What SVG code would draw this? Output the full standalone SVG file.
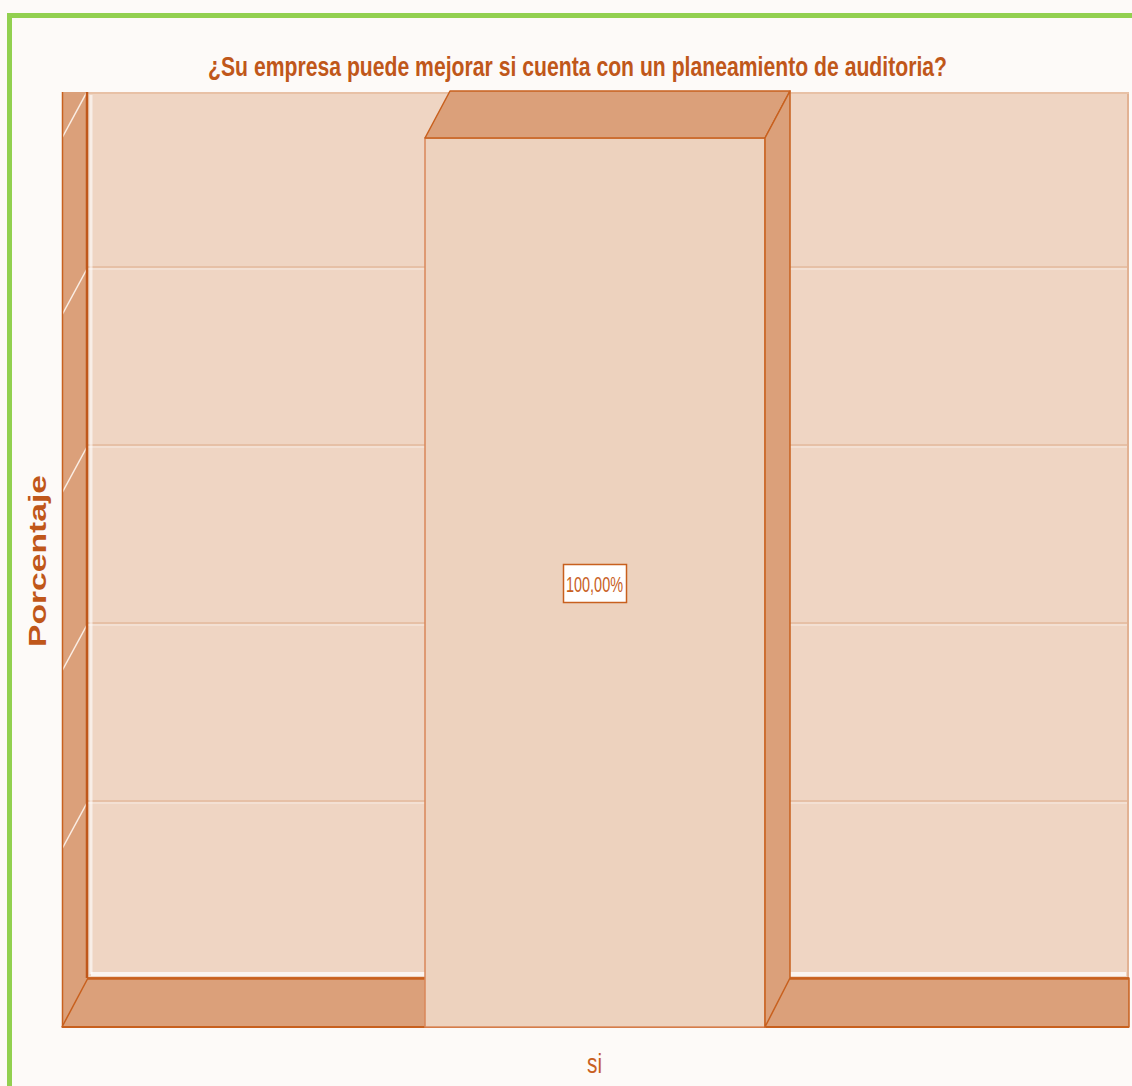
<svg xmlns="http://www.w3.org/2000/svg" width="1132" height="1086" viewBox="0 0 1132 1086">
  <defs>
    <style>
      .side { fill: #dba07a; stroke: #c8601e; stroke-width: 1.5; stroke-linejoin: round; }
      .grid { stroke: #e6c0a6; stroke-width: 2; }
      .gridhi { stroke: #ffffff; stroke-width: 1; opacity: 0.55; }
      .diag { stroke: #fbeee5; stroke-width: 1.5; }
      .ttl { font-family: "Liberation Sans Narrow", "Liberation Sans", Arial, sans-serif; font-weight: bold; fill: #c0571a; }
      .lbl { font-family: "Liberation Sans Narrow", "Liberation Sans", Arial, sans-serif; fill: #c8601e; }
    </style>
    <clipPath id="lw"><rect x="62" y="92" width="26" height="935"/></clipPath>
  </defs>

  <rect x="0" y="0" width="1132" height="1086" fill="#fdfaf8"/>
  <rect x="9.5" y="15.5" width="1140" height="1100" fill="none" stroke="#92d050" stroke-width="5"/>

  <g id="back-wall">
    <rect x="88" y="92" width="1041" height="886" fill="#efd5c3"/>
    <line class="grid" x1="88" y1="267" x2="1129" y2="267"/>
    <line class="gridhi" x1="88" y1="269" x2="1129" y2="269"/>
    <line class="grid" x1="88" y1="445" x2="1129" y2="445"/>
    <line class="gridhi" x1="88" y1="447" x2="1129" y2="447"/>
    <line class="grid" x1="88" y1="623" x2="1129" y2="623"/>
    <line class="gridhi" x1="88" y1="625" x2="1129" y2="625"/>
    <line class="grid" x1="88" y1="801" x2="1129" y2="801"/>
    <line class="gridhi" x1="88" y1="803" x2="1129" y2="803"/>
    <line x1="91" y1="95" x2="91" y2="974" stroke="#ffffff" stroke-width="3" opacity="0.6"/>
    <line x1="91" y1="974" x2="1126" y2="974" stroke="#ffffff" stroke-width="4" opacity="0.75"/>
    <line x1="1128" y1="92" x2="1128" y2="978" stroke="#e2b293" stroke-width="2"/>
    <line x1="88" y1="93" x2="1129" y2="93" stroke="#e8c1a6" stroke-width="2"/>
  </g>

  <g id="left-wall">
    <rect x="62" y="92" width="26" height="935" fill="#dba07a"/>
    <g clip-path="url(#lw)">
      <line class="diag" x1="88" y1="90" x2="62" y2="138"/>
      <line class="diag" x1="88" y1="267" x2="62" y2="315"/>
      <line class="diag" x1="88" y1="445" x2="62" y2="493"/>
      <line class="diag" x1="88" y1="623" x2="62" y2="671"/>
      <line class="diag" x1="88" y1="801" x2="62" y2="849"/>
    </g>
    <line x1="62.5" y1="92" x2="62.5" y2="1027" stroke="#c8601e" stroke-width="1.5"/>
    <line x1="87" y1="92" x2="87" y2="978" stroke="#c0571a" stroke-width="2.5"/>
  </g>

  <g id="floor">
    <polygon class="side" points="88,978 1129,978 1129,1027 62,1027"/>
    <line x1="88" y1="978.5" x2="1129" y2="978.5" stroke="#c8601e" stroke-width="2.5"/>
    <line x1="62" y1="1027" x2="1129" y2="1027" stroke="#c8601e" stroke-width="2"/>
  </g>

  <g id="bar-si">
    <rect x="425" y="138" width="340" height="889" fill="#edd2be" stroke="#d9875a" stroke-width="1.5"/>
    <polygon class="side" points="425,138 450,91 790,91 765,138"/>
    <polygon class="side" points="765,138 790,91 790,978 765,1027"/>
  </g>

  <g id="data-label">
    <rect x="563.5" y="564.5" width="63" height="38" fill="#ffffff" stroke="#c8601e" stroke-width="1.5"/>
    <text class="lbl" x="566" y="592" font-size="22" textLength="57" lengthAdjust="spacingAndGlyphs">100,00%</text>
  </g>

  <g id="title">
    <text class="ttl" x="208" y="76" font-size="27" textLength="739" lengthAdjust="spacingAndGlyphs">¿Su empresa puede mejorar si cuenta con un planeamiento de auditoria?</text>
  </g>

  <g id="y-axis-title">
    <text class="ttl" transform="translate(46,647) rotate(-90)" x="0" y="0" font-size="24" font-family="'Liberation Sans', Arial, sans-serif" textLength="172" lengthAdjust="spacingAndGlyphs">Porcentaje</text>
  </g>

  <g id="x-axis-label">
    <text class="lbl" x="587" y="1073" font-size="27" fill="#cf6f33" textLength="15" lengthAdjust="spacingAndGlyphs">si</text>
  </g>
</svg>
